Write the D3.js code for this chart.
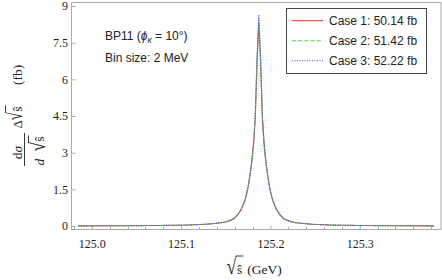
<!DOCTYPE html>
<html><head><meta charset="utf-8">
<script src="https://cdn.jsdelivr.net/npm/d3@7"></script>
<style>body{margin:0;background:#fff}svg{display:block}</style>
</head><body><svg id="c" width="442" height="280"></svg>
<script>
const xValues=[124.985,125.037,125.077,125.107,125.127,125.137,125.147,125.153,125.159,125.163,125.167,125.171,125.173,125.175,125.177,125.179,125.181,125.183,125.185,125.187,125.189,125.191,125.193,125.195,125.197,125.199,125.201,125.203,125.207,125.211,125.215,125.221,125.227,125.237,125.247,125.267,125.297,125.337,125.383];
const case1=[0.006,0.012,0.022,0.04,0.07,0.10,0.14,0.20,0.30,0.44,0.66,1.0,1.25,1.6,2.05,2.6,3.3,4.4,6.7,8.3,6.7,4.4,3.3,2.6,2.05,1.6,1.25,1.0,0.66,0.44,0.30,0.20,0.14,0.10,0.07,0.04,0.022,0.012,0.006];
const case2=[0.006,0.012,0.022,0.04,0.07,0.10,0.14,0.20,0.30,0.44,0.66,1.0,1.25,1.6,2.05,2.6,3.3,4.45,6.8,8.5,6.8,4.45,3.3,2.6,2.05,1.6,1.25,1.0,0.66,0.44,0.30,0.20,0.14,0.10,0.07,0.04,0.022,0.012,0.006];
const case3=[0.006,0.012,0.022,0.04,0.07,0.10,0.14,0.20,0.30,0.44,0.66,1.0,1.25,1.6,2.05,2.6,3.3,4.5,6.9,8.65,6.9,4.5,3.3,2.6,2.05,1.6,1.25,1.0,0.66,0.44,0.30,0.20,0.14,0.10,0.07,0.04,0.022,0.012,0.006];
const xTicks=[125.0,125.1,125.2,125.3];
const yTicks=[0,1.5,3,4.5,6,7.5,9];
const legendLabels=["Case 1: 50.14 fb","Case 2: 51.42 fb","Case 3: 52.22 fb"];
const seriesColors=["#ff3b3b","#3ee03e","#5050ff"];
const seriesDash=[null,"4,2.2","1.1,1.4"];

const svg=d3.select("#c");
const serif="'Liberation Serif','Times New Roman',serif";
const sans="'Liberation Sans',Arial,sans-serif";
const x=d3.scaleLinear().domain([124.9767,125.391]).range([71,441]);
const y=d3.scaleLinear().domain([0,9]).range([226,6]);

// frame
svg.append("rect").attr("x",71.5).attr("y",2.5).attr("width",369.5).attr("height",227)
  .attr("fill","none").attr("stroke","#aaaaaa").attr("stroke-width",1);

// bottom axis
const gx=svg.append("g").attr("transform","translate(0,229.5)")
  .call(d3.axisBottom(x).tickValues(xTicks).tickFormat(d3.format(".1f")).tickSizeInner(-4).tickSizeOuter(0).tickPadding(10));
gx.select(".domain").remove();
gx.selectAll(".tick line").attr("stroke","#aaaaaa");
gx.selectAll(".tick text").attr("font-family",serif).attr("font-size",12).attr("fill","#222");
const minorX=d3.range(124.98,125.385,0.02).filter(v=>!xTicks.some(t=>Math.abs(t-v)<1e-6));
svg.append("g").selectAll("line").data(minorX).join("line")
  .attr("x1",d=>Math.round(x(d))+0.5).attr("x2",d=>Math.round(x(d))+0.5)
  .attr("y1",229.5).attr("y2",227).attr("stroke","#aaaaaa");

// left axis
const gy=svg.append("g").attr("transform","translate(71.5,0)")
  .call(d3.axisLeft(y).tickValues(yTicks).tickFormat(d3.format("")).tickSizeInner(-4).tickSizeOuter(0).tickPadding(3.5));
gy.select(".domain").remove();
gy.selectAll(".tick line").attr("stroke","#aaaaaa");
gy.selectAll(".tick text").attr("font-family",serif).attr("font-size",12).attr("fill","#222");

// series
const line=d3.line().x((d,i)=>x(xValues[i])).y(d=>y(d));
[case1,case2,case3].forEach((s,k)=>{
  svg.append("path").attr("d",line(s)).attr("fill","none")
    .attr("stroke",seriesColors[k]).attr("stroke-width",1.1)
    .attr("stroke-dasharray",seriesDash[k]);
});

// inset text
const t1=svg.append("text").attr("x",105).attr("y",40).attr("font-family",sans).attr("font-size",12).attr("fill","#222");
t1.append("tspan").text("BP11 (");
t1.append("tspan").attr("font-style","italic").text("ϕ");
t1.append("tspan").attr("font-style","italic").attr("font-size",8.5).attr("dy",2.5).text("κ");
t1.append("tspan").attr("dy",-2.5).text(" = 10°)");
svg.append("text").attr("x",105).attr("y",62).attr("font-family",sans).attr("font-size",12).attr("fill","#222").text("Bin size: 2 MeV");

// legend
svg.append("rect").attr("x",286.5).attr("y",8.5).attr("width",140).attr("height",65)
  .attr("fill","#fff").attr("stroke","#444");
legendLabels.forEach((lab,k)=>{
  const cy=20.7+k*20;
  svg.append("line").attr("x1",292).attr("x2",323).attr("y1",cy).attr("y2",cy)
    .attr("stroke",seriesColors[k]).attr("stroke-width",1.1).attr("stroke-dasharray",seriesDash[k]);
  svg.append("text").attr("x",329).attr("y",cy+4.3).attr("font-family",sans).attr("font-size",12).attr("fill","#222").text(lab);
});

// radical helper
const ctx=document.createElement("canvas").getContext("2d");
ctx.font="40px "+serif;
const rm=ctx.measureText("√");
const rAsc=rm.actualBoundingBoxAscent, rDesc=rm.actualBoundingBoxDescent;
const rL=rm.actualBoundingBoxLeft, rR=rm.actualBoundingBoxRight;
function sqrtS(g,x0,topY,botY,inkW,baseline,fs){
  const sy=(botY-topY)/(rAsc+rDesc), sx=inkW/(rL+rR);
  g.append("text").attr("font-family",serif).attr("font-size",40).attr("fill","#222")
    .attr("transform",`translate(${x0+rL*sx},${topY+rAsc*sy}) scale(${sx},${sy})`).text("√");
  const sx0=x0+inkW+0.5;
  const st=g.append("text").attr("x",sx0).attr("y",baseline).attr("font-family",serif)
    .attr("font-size",fs).attr("fill","#222").text("ŝ");
  const w=st.node().getComputedTextLength();
  g.append("line").attr("x1",x0+inkW-0.6).attr("x2",sx0+w+1).attr("y1",topY+0.5).attr("y2",topY+0.5)
    .attr("stroke","#222").attr("stroke-width",0.9);
  return sx0+w+1;
}

// x title
const xt=svg.append("g");
const xe=sqrtS(xt,227,255.5,274.5,9.5,273.5,13.5);
xt.append("text").attr("x",xe+4).attr("y",273.5).attr("font-family",serif).attr("font-size",13.5).attr("fill","#222").text("(GeV)");

// y title (rotated)
const yt=svg.append("g").attr("transform","rotate(-90)");
yt.append("text").attr("x",-152.5).attr("y",21.5).attr("text-anchor","middle").attr("font-family",serif).attr("font-size",13.5).attr("fill","#222")
  .call(t=>{t.append("tspan").text("d");t.append("tspan").attr("font-style","italic").text("σ");});
yt.append("line").attr("x1",-166).attr("x2",-133).attr("y1",24.5).attr("y2",24.5).attr("stroke","#222").attr("stroke-width",0.9);
yt.append("text").attr("x",-165.5).attr("y",44).attr("font-family",serif).attr("font-style","italic").attr("font-size",13.5).attr("fill","#222").text("d");
sqrtS(yt,-151,28,46,9,44,13);
yt.append("text").attr("x",-128.5).attr("y",21.7).attr("font-family",serif).attr("font-size",13).attr("fill","#222").text("Δ");
sqrtS(yt,-120,5,23,8,21.7,13);
yt.append("text").attr("x",-85).attr("y",21.7).attr("font-family",serif).attr("font-size",13.5).attr("fill","#222").text("(fb)");
</script></body></html>
